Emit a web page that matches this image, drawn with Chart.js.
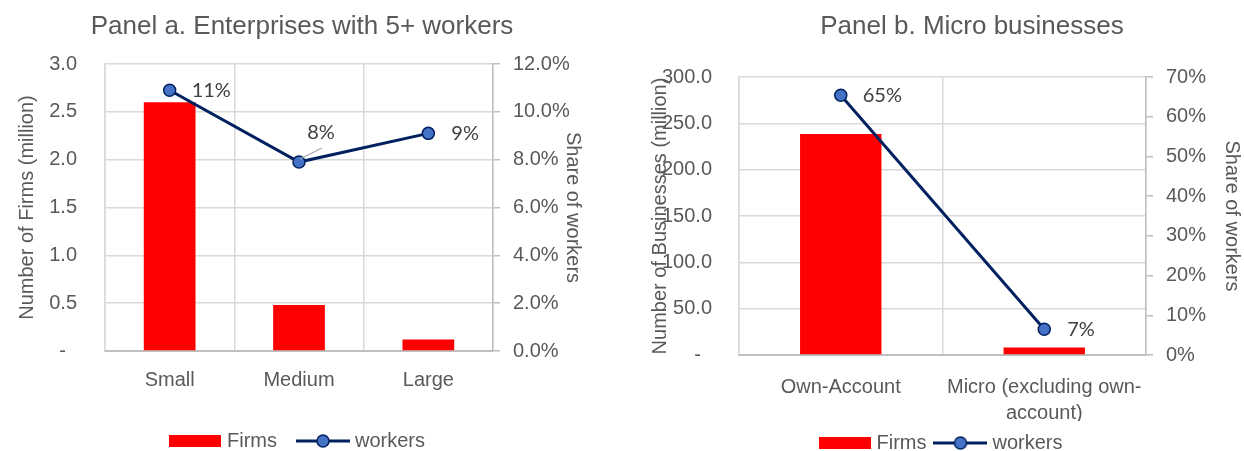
<!DOCTYPE html>
<html>
<head>
<meta charset="utf-8">
<script src="https://cdn.jsdelivr.net/npm/chart.js@4.4.1/dist/chart.umd.min.js"></script>
<style>
  html, body { margin: 0; padding: 0; background: #fff; }
  #wrapA { position: absolute; left: 0; top: 0; width: 620px; height: 451px; }
  #wrapB { position: absolute; left: 620px; top: 0; width: 624px; height: 451px; }
</style>
</head>
<body>
<div id="wrapA"><canvas id="chartA" width="620" height="451"></canvas></div>
<div id="wrapB"><canvas id="chartB" width="624" height="451"></canvas></div>
<script>
// Panel a
var labelsA = ['Small', 'Medium', 'Large'];
var firmsA = [2.6, 0.48, 0.12];          // million
var workersA = [10.9, 7.9, 9.1];          // % share of workers

// Panel b
var labelsB = ['Own-Account', ['Micro (excluding own-', 'account)']];
var firmsB = [238.5, 8];                  // million
var workersB = [65.4, 6.5];               // %

var RED = '#FF0000';
var NAVY = '#002060';
var DOT = '#4472C4';
var TXT = '#595959';
var GRID = '#D9D9D9';

Chart.defaults.font.family = "'Liberation Sans', Arial, sans-serif";
Chart.defaults.font.size = 20;
Chart.defaults.color = TXT;

// little legend icons
function barIcon() {
    var c = document.createElement('canvas');
    c.width = 52; c.height = 12;
    var g = c.getContext('2d');
    g.fillStyle = RED;
    g.fillRect(0, 0, 52, 12);
    return c;
}
function lineIcon() {
    var c = document.createElement('canvas');
    c.width = 54; c.height = 16;
    var g = c.getContext('2d');
    g.strokeStyle = NAVY;
    g.lineWidth = 3;
    g.beginPath(); g.moveTo(0, 8); g.lineTo(54, 8); g.stroke();
    g.beginPath(); g.arc(27, 8, 6, 0, Math.PI * 2);
    g.fillStyle = DOT; g.fill();
    g.lineWidth = 1.5; g.strokeStyle = NAVY; g.stroke();
    return c;
}
var icons = [barIcon(), lineIcon()];

var panelTitle = {
    id: 'panelTitle',
    afterDraw: function (chart, args, opts) {
        var ctx = chart.ctx;
        ctx.save();
        ctx.font = "26px 'Liberation Sans', Arial, sans-serif";
        ctx.fillStyle = TXT;
        ctx.textAlign = 'center';
        ctx.textBaseline = 'middle';
        ctx.fillText(opts.text, opts.x, opts.y);
        ctx.restore();
    }
};

var pctLabels = {
    id: 'pctLabels',
    afterDatasetsDraw: function (chart, args, opts) {
        var ctx = chart.ctx;
        var meta = chart.getDatasetMeta(1);
        var vals = chart.data.datasets[1].data;
        ctx.save();
        ctx.font = "20px Lato, 'Liberation Sans', sans-serif";
        ctx.fillStyle = '#404040';
        ctx.textBaseline = 'middle';
        meta.data.forEach(function (pt, i) {
            var o = opts.offsets[i];
            var txt = Math.round(vals[i]) + '%';
            if (o.leader) {
                ctx.strokeStyle = '#A6A6A6';
                ctx.lineWidth = 1.2;
                ctx.beginPath();
                ctx.moveTo(pt.x + 1, pt.y - 3);
                ctx.lineTo(pt.x + 23, pt.y - 14);
                ctx.stroke();
                ctx.textAlign = 'center';
            } else {
                ctx.textAlign = 'left';
            }
            ctx.fillText(txt, pt.x + o.dx, pt.y + o.dy);
        });
        ctx.restore();
    }
};

function makeChart(id, cfg) {
    return new Chart(document.getElementById(id), {
        type: 'bar',
        data: {
            labels: cfg.labels,
            datasets: [{
                label: 'Firms',
                data: cfg.firms,
                backgroundColor: RED,
                yAxisID: 'y',
                order: 2,
                barPercentage: 0.4,
                categoryPercentage: 1
            }, {
                type: 'line',
                label: 'workers',
                data: cfg.workers,
                borderColor: NAVY,
                borderWidth: 3,
                pointRadius: 6,
                pointBorderWidth: 1.5,
                pointBackgroundColor: DOT,
                pointBorderColor: NAVY,
                yAxisID: 'y1',
                order: 1
            }]
        },
        options: {
            responsive: false,
            animation: false,
            layout: { padding: { top: cfg.top, right: cfg.padRight, bottom: 0, left: 0 } },
            plugins: {
                tooltip: { enabled: false },
                title: { display: false },
                legend: {
                    position: 'bottom',
                    fullSize: false,
                    maxHeight: cfg.legendH,
                    labels: {
                        usePointStyle: true,
                        pointStyleWidth: 44,
                        padding: cfg.legendPad,
                        color: TXT,
                        font: { size: 20 },
                        sort: function (a, b) { return a.datasetIndex - b.datasetIndex; },
                        generateLabels: function (chart) {
                            var items = Chart.defaults.plugins.legend.labels.generateLabels(chart);
                            items.forEach(function (it) { it.pointStyle = icons[it.datasetIndex]; });
                            return items;
                        }
                    }
                },
                panelTitle: cfg.title,
                pctLabels: { offsets: cfg.offsets }
            },
            scales: {
                x: {
                    grid: { color: GRID, lineWidth: 1.5, drawTicks: false, offset: true },
                    border: { color: '#BFBFBF', width: 2 },
                    ticks: { padding: cfg.xPad, font: { size: 20, lineHeight: 1.3 }, color: TXT },
                    afterFit: function (s) { s.height = cfg.xH; }
                },
                y: {
                    position: 'left',
                    min: 0, max: cfg.yMax,
                    grid: { color: GRID, lineWidth: 1.5, drawTicks: false },
                    border: { color: GRID, width: 1.5 },
                    ticks: {
                        stepSize: cfg.yStep,
                        padding: cfg.yPad,
                        color: TXT,
                        callback: function (v) { return v === 0 ? '-  ' : v.toFixed(1); }
                    },
                    title: {
                        display: true,
                        text: cfg.yTitle,
                        color: TXT,
                        font: { size: 20 },
                        padding: { top: cfg.yTitlePad, bottom: 0 }
                    },
                    afterFit: function (s) { s.width = cfg.yW; }
                },
                y1: {
                    position: 'right',
                    min: 0, max: cfg.y1Max,
                    grid: { drawOnChartArea: false, drawTicks: true, tickLength: 7, color: '#BFBFBF', lineWidth: 1.5 },
                    border: { color: '#BFBFBF', width: 1.5 },
                    ticks: {
                        stepSize: cfg.y1Step,
                        padding: 13,
                        color: TXT,
                        callback: function (v) { return v.toFixed(cfg.y1Dec) + '%'; }
                    },
                    title: {
                        display: true,
                        text: 'Share of workers',
                        color: TXT,
                        font: { size: 20 },
                        padding: { top: cfg.y1TitlePad, bottom: 0 }
                    },
                    afterFit: function (s) { s.width = cfg.y1W; }
                }
            }
        },
        plugins: [panelTitle, pctLabels]
    });
}

makeChart('chartA', {
    labels: labelsA, firms: firmsA, workers: workersA,
    top: 64, padRight: 31, legendH: 44, legendPad: 24, xH: 56, xPad: 16,
    yMax: 3, yStep: 0.5, yPad: 28, yW: 105, yTitle: 'Number of Firms (million)', yTitlePad: 15,
    y1Max: 12, y1Step: 2, y1Dec: 1, y1W: 96, y1TitlePad: 4,
    title: { text: 'Panel a. Enterprises with 5+ workers', x: 302, y: 27 },
    offsets: [{ dx: 22, dy: 0 }, { dx: 22, dy: -30, leader: true }, { dx: 23, dy: 0 }]
});

makeChart('chartB', {
    labels: labelsB, firms: firmsB, workers: workersB,
    top: 77, padRight: 0, legendH: 30, legendPad: 12, xH: 66, xPad: 19,
    yMax: 300, yStep: 50, yPad: 27, yW: 119, yTitle: 'Number of Businesses (million)', yTitlePad: 28,
    y1Max: 70, y1Step: 10, y1Dec: 0, y1W: 98, y1TitlePad: 0,
    title: { text: 'Panel b. Micro businesses', x: 352, y: 27 },
    offsets: [{ dx: 22, dy: 0 }, { dx: 23, dy: 0 }]
});
</script>
</body>
</html>
